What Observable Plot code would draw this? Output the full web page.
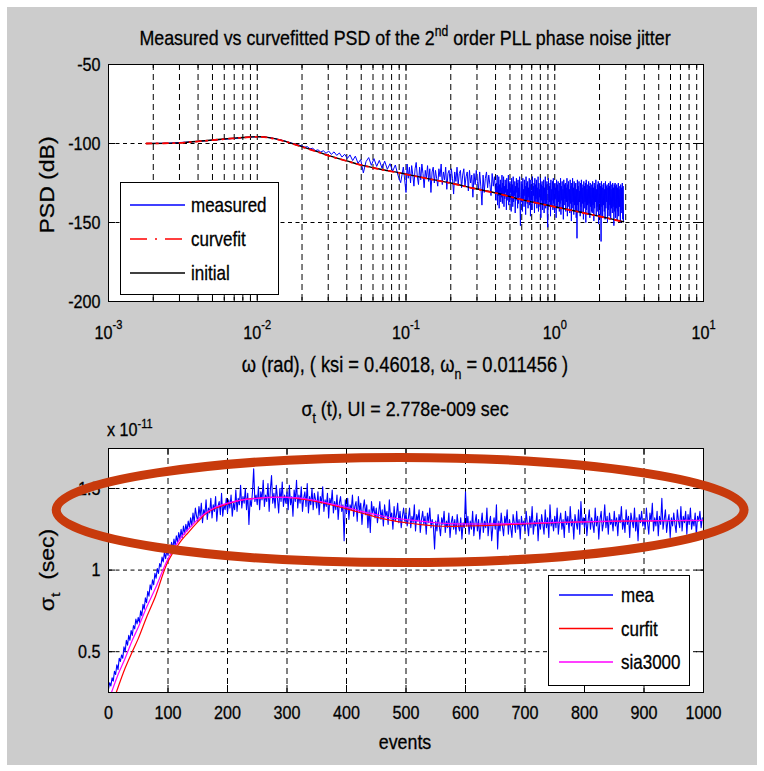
<!DOCTYPE html>
<html><head><meta charset="utf-8">
<script src="https://cdn.jsdelivr.net/npm/d3@7"></script>
<script src="https://cdn.jsdelivr.net/npm/@observablehq/plot@0.6"></script>
<style>
html,body{margin:0;padding:0;background:#fff;}
#page{position:relative;width:764px;height:771px;background:#fff;overflow:hidden}
#bg{position:absolute;left:7px;top:7px;width:750px;height:758px;background:#cccccc}
.chart{position:absolute;left:0;top:0}
.chart svg text{stroke:#000;stroke-width:0.3px}
</style></head>
<body><div id="page"><div id="bg"></div><div id="top" class="chart"></div><div id="bot" class="chart"></div></div>
<script>
const FONT = "'Liberation Sans', Arial, Helvetica, sans-serif";
const SQ = 0.85;
const W = 764, H = 771;

// ---------- top chart: PSD ----------
const xTicksTop = [0.001, 0.01, 0.1, 1, 10];
const yTicksTop = [-200, -150, -100, -50];
const fitX = [0.0018, 0.003, 0.004, 0.005, 0.007, 0.009, 0.0105, 0.012, 0.015, 0.0195, 0.025, 0.031, 0.04, 0.049, 0.065, 0.092, 0.14, 0.199, 0.29, 0.41, 0.6, 1.0, 1.5, 2.1, 2.9];
const initialY = [-100, -99.6, -98.6, -97.8, -96.6, -95.9, -95.7, -96.3, -98.3, -101.7, -105, -108, -111, -113.4, -116, -118.7, -122.2, -125, -128.5, -131.5, -135.5, -140, -143.5, -146.5, -149.5];
const curvefitY = [-100, -99.6, -98.7, -97.9, -96.7, -96.0, -95.8, -96.4, -98.4, -101.8, -105.1, -108.1, -111.1, -113.5, -116.1, -118.8, -122.3, -125.1, -128.6, -131.6, -135.6, -140.1, -143.6, -146.6, -149.6];
const measLowX = [0.0018, 0.0025, 0.0037, 0.0046, 0.0055, 0.0064, 0.0073, 0.0082, 0.0091, 0.0100, 0.011, 0.0128, 0.0146, 0.0164, 0.0183];
const measLowY = [-100, -99.8, -98.9, -98.2, -97.6, -97.1, -96.6, -96.2, -95.9, -95.7, -95.8, -96.7, -97.9, -99.3, -100.6];
const measMidRange = [0.02, 0.1];
const measMidY = [-101.5, -102.3, -102.0, -103.4, -103.0, -104.5, -104.0, -105.4, -104.6, -106.2,
  -104.8, -106.9, -105.3, -107.5, -106.0, -108.6, -106.8, -109.5, -107.2, -110.8,
  -108.0, -112.5, -110.2, -118.6, -111.5, -108.9, -113.8, -109.6, -114.5, -110.7,
  -115.6, -111.2, -116.3, -112.8, -117.5, -113.6, -120.2, -124.8, -114.9, -131.0];
const measHighARange = [0.1, 0.4];
const measHighAY = [
  -117,-113,-122,-115,-125,-114,-120,-127,-116,-112,-121,-126,-115,-123,-113,-119,-128,-117,-122,-114,
  -124,-116,-131,-118,-115,-125,-117,-122,-127,-116,-121,-113,-126,-118,-123,-115,-129,-119,-117,-125,
  -116,-122,-132,-118,-124,-115,-126,-119,-117,-128,-120,-116,-127,-121,-118,-130,-117,-125,-120,-134,
  -119,-126,-117,-124,-129,-118,-127,-139,-120,-131,-122,-118,-128,-120,-126,-133,-119,-127,-121,-131];
const measHighBRange = [0.4, 2.9];
const measHighBY = [
  -122,-136,-125,-131,-120,-139,-127,-133,-121,-141,-126,-130,-123,-137,-128,-134,-120,-138,-125,-132,
  -121,-140,-127,-135,-123,-131,-126,-142,-122,-136,-129,-133,-120,-139,-125,-137,-124,-131,-128,-143,
  -122,-135,-126,-140,-121,-137,-130,-133,-124,-144,-127,-136,-122,-131,-125,-141,-123,-138,-128,-134,
  -121,-139,-152,-132,-124,-137,-126,-143,-122,-135,-129,-140,-123,-133,-127,-145,-121,-136,-125,-138,
  -124,-141,-128,-134,-122,-139,-126,-146,-123,-136,-130,-142,-121,-137,-127,-133,-125,-144,-122,-138,
  -126,-135,-123,-141,-128,-137,-121,-143,-125,-134,-129,-140,-122,-147,-126,-136,-124,-142,-127,-139,
  -123,-144,-128,-136,-121,-141,-126,-138,-124,-145,-153,-135,-122,-140,-127,-137,-125,-146,-123,-139,
  -129,-136,-124,-142,-122,-138,-127,-144,-125,-135,-128,-147,-123,-139,-126,-141,-124,-137,-130,-143,
  -125,-138,-122,-145,-127,-136,-124,-141,-129,-148,-123,-139,-126,-135,-125,-143,-128,-137,-122,-146,
  -126,-140,-124,-136,-129,-144,-123,-138,-127,-149,-125,-141,-122,-137,-128,-145,-124,-139,-126,-142,
  -125,-147,-129,-160,-123,-139,-127,-143,-124,-137,-130,-146,-125,-140,-123,-144,-128,-138,-126,-148,
  -124,-141,-127,-137,-125,-150,-123,-142,-129,-139,-126,-145,-124,-138,-127,-147,-125,-140,-128,-143,
  -126,-144,-124,-139,-128,-149,-125,-141,-127,-137,-123,-146,-129,-140,-126,-143,-124,-151,-128,-138,
  -125,-145,-127,-162,-124,-140,-128,-147,-126,-139,-125,-143,-129,-148,-124,-141,-127,-137,-126,-150,
  -128,-142,-125,-146,-127,-139,-124,-148,-129,-141,-126,-144,-125,-140,-128,-152,-126,-143,-125,-147,
  -127,-141,-126,-149,-128,-143,-125,-146,-129,-140,-127,-150,-126,-144,-128,-142,-125,-148,-127,-149];
const topLegend = ["measured", "curvefit", "initial"];

// ---------- bottom chart: sigma_t (x 1e-11 s) ----------
const xTicksBot = [0, 100, 200, 300, 400, 500, 600, 700, 800, 900, 1000];
const yTicksBot = [0.5, 1, 1.5];
const meaStep = 2; // one reading every 2 events
const meaY = [
  .27,.31,.29,.34,.32,.38,.36,.42,.39,.46,.44,.48,.46,.53,.50,.57,.54,.60,.57,.63,.60,.66,.64,.70,.67,
  .71,.68,.75,.72,.79,.76,.83,.80,.87,.84,.91,.88,.94,.91,.98,.95,1.01,.98,1.04,1.02,1.08,1.05,1.11,1.07,1.12,
  1.09,1.14,1.11,1.17,1.13,1.19,1.15,1.21,1.17,1.23,1.19,1.25,1.20,1.27,1.22,1.28,1.24,1.30,1.26,1.32,1.27,1.35,1.29,1.38,1.33,
  1.30,1.39,1.33,1.41,1.29,1.37,1.34,1.43,1.31,1.38,1.35,1.44,1.32,1.40,1.36,1.45,1.30,1.39,1.42,1.34,1.47,1.33,1.40,1.37,1.44,
  1.35,1.43,1.38,1.46,1.33,1.41,1.37,1.49,1.36,1.44,1.40,1.52,1.38,1.45,1.41,1.50,1.37,1.47,1.28,1.43,1.39,1.48,1.62,1.42,1.46,
  1.40,1.51,1.37,1.48,1.43,1.55,1.39,1.46,1.42,1.53,1.36,1.49,1.58,1.41,1.47,1.38,1.52,1.44,1.35,1.50,1.42,1.54,1.39,1.46,1.41,
  1.48,1.37,1.52,1.40,1.45,1.33,1.49,1.42,1.55,1.38,1.46,1.41,1.51,1.36,1.44,1.48,1.39,1.53,1.35,1.45,1.40,1.50,1.37,1.47,1.43,
  1.38,1.48,1.34,1.45,1.41,1.51,1.36,1.43,1.39,1.47,1.32,1.44,1.40,1.49,1.35,1.42,1.37,1.46,1.31,1.41,1.45,1.36,1.40,1.18,1.43,
  1.35,1.44,1.31,1.40,1.37,1.46,1.33,1.39,1.42,1.30,1.45,1.36,1.41,1.28,1.38,1.43,1.34,1.40,1.26,1.37,1.23,1.42,1.35,1.39,1.32,
  1.38,1.29,1.35,1.42,1.31,1.37,1.27,1.40,1.33,1.36,1.28,1.43,1.32,1.35,1.25,1.39,1.30,1.34,1.41,1.29,1.36,1.26,1.33,1.38,1.30,
  1.35,1.27,1.32,1.38,1.26,1.33,1.29,1.40,1.24,1.34,1.30,1.37,1.23,1.31,1.36,1.28,1.33,1.22,1.35,1.29,1.38,1.26,1.31,1.27,1.13,
  1.30,1.24,1.34,1.27,1.21,1.32,1.28,1.36,1.23,1.30,1.26,1.35,1.20,1.29,1.33,1.25,1.31,1.22,1.34,1.27,1.24,1.32,1.19,1.29,1.26,
  1.48,1.27,1.33,1.22,1.30,1.25,1.36,1.21,1.29,1.34,1.24,1.31,1.19,1.28,1.35,1.23,1.30,1.26,1.38,1.21,1.29,1.33,1.18,1.27,1.32,
  1.25,1.40,1.13,1.30,1.24,1.35,1.27,1.21,1.33,1.28,1.37,1.22,1.31,1.26,1.20,1.34,1.29,1.23,1.36,1.25,1.31,1.19,1.33,1.27,1.30,
  1.24,1.36,1.28,1.21,1.33,1.26,1.39,1.22,1.30,1.27,1.35,1.18,1.31,1.25,1.34,1.28,1.22,1.37,1.26,1.32,1.20,1.40,1.27,1.31,1.24,
  1.33,1.26,1.38,1.22,1.30,1.35,1.25,1.31,1.20,1.36,1.28,1.33,1.23,1.39,1.27,1.31,1.19,1.34,1.29,1.25,1.37,1.22,1.42,1.28,1.32,
  1.26,1.34,1.21,1.30,1.37,1.25,1.32,1.28,1.23,1.38,1.27,1.33,1.19,1.31,1.36,1.24,1.29,1.40,1.26,1.33,1.22,1.35,1.28,1.31,1.24,
  1.36,1.27,1.32,1.21,1.34,1.29,1.39,1.25,1.31,1.23,1.37,1.28,1.33,1.20,1.35,1.30,1.26,1.38,1.24,1.32,1.18,1.34,1.29,1.36,1.27,
  1.31,1.25,1.38,1.29,1.22,1.35,1.30,1.41,1.24,1.32,1.27,1.36,1.21,1.33,1.28,1.44,1.25,1.31,1.37,1.23,1.30,1.34,1.20,1.32,1.27,
  1.35,1.28,1.23,1.37,1.30,1.26,1.39,1.24,1.33,1.29,1.36,1.22,1.34,1.28,1.38,1.25,1.31,1.27,1.35,1.21,1.33,1.30,1.36,1.26,1.32];
const curfitEv = [13, 28, 40, 50, 65, 79, 99, 120, 134, 150, 163, 180, 200, 225, 250, 275, 300, 325, 350, 375, 400, 425, 450, 475, 500, 525, 550, 575, 600, 650, 700, 750, 800, 850, 900, 950, 1000];
const curfitY = [0.25, 0.40, 0.50, 0.58, 0.72, 0.84, 1.045, 1.17, 1.23, 1.295, 1.345, 1.38, 1.405, 1.43, 1.44, 1.445, 1.445, 1.435, 1.42, 1.40, 1.375, 1.35, 1.325, 1.305, 1.29, 1.278, 1.27, 1.268, 1.27, 1.275, 1.283, 1.29, 1.295, 1.299, 1.301, 1.303, 1.304];
const siaEv = [5, 15, 28, 40, 50, 65, 79, 100, 120, 134, 150, 163, 180, 200, 225, 250, 275, 300, 325, 350, 375, 400, 425, 450, 475, 500, 525, 550, 575, 600, 650, 700, 750, 800, 850, 900, 950, 1000];
const siaY = [0.25, 0.35, 0.46, 0.57, 0.65, 0.78, 0.89, 1.07, 1.19, 1.25, 1.31, 1.35, 1.385, 1.41, 1.43, 1.44, 1.445, 1.445, 1.44, 1.425, 1.405, 1.385, 1.36, 1.34, 1.32, 1.31, 1.30, 1.29, 1.285, 1.283, 1.283, 1.287, 1.292, 1.296, 1.30, 1.302, 1.304, 1.305];
const botLegend = ["mea", "curfit", "sia3000"];
// highlight annotation (in data units of the bottom chart)
const ELL = {cx: 491, cy: 1.365, rx: 578, ry: 0.322};

// ---------- build tables ----------
const zip = (xs, ys) => xs.map((x, i) => ({x, y: ys[i]}));
const logGrid = ([lo, hi], n) => d3.range(n).map(i => lo * Math.pow(hi / lo, i / (n - 1)));
const measuredTop = [
  ...zip(measLowX, measLowY),
  ...zip(logGrid(measMidRange, measMidY.length), measMidY),
  ...zip(logGrid(measHighARange, measHighAY.length).slice(1), measHighAY.slice(1)),
  ...zip(logGrid(measHighBRange, measHighBY.length).slice(1), measHighBY.slice(1))
];
const initialTop = zip(fitX, initialY);
const curvefitTop = zip(fitX, curvefitY);
const xMinorTop = xTicksTop.slice(0, -1).flatMap(d => d3.range(2, 10).map(m => m * d));
const meaData = meaY.map((y, i) => ({x: i * meaStep, y}));
const curfitData = zip(curfitEv, curfitY);
const siaData = zip(siaEv, siaY);

const TOP = {l: 108, r: 703, t: 64, b: 301};
const BOT = {l: 108, r: 703, t: 448, b: 692};
const TK = 7, TKm = 4;
const gridV = {stroke: "black", strokeWidth: 1, strokeDasharray: "6,4"};
const gridH = {stroke: "black", strokeWidth: 1, strokeDasharray: "4,3.5"};

function insideTicks(F, xs, ys, len) {
  const fw = F.r - F.l, fh = F.b - F.t;
  const m = [];
  if (xs) {
    m.push(Plot.ruleX(xs, {x: d => d, insetTop: fh - len, stroke: "black"}));
    m.push(Plot.ruleX(xs, {x: d => d, insetBottom: fh - len, stroke: "black"}));
  }
  if (ys) {
    m.push(Plot.ruleY(ys, {y: d => d, insetRight: fw - len, stroke: "black"}));
    m.push(Plot.ruleY(ys, {y: d => d, insetLeft: fw - len, stroke: "black"}));
  }
  return m;
}

const topSvg = Plot.plot({
  width: W, height: H,
  marginLeft: TOP.l, marginRight: W - TOP.r, marginTop: TOP.t, marginBottom: H - TOP.b,
  style: {background: "transparent", fontFamily: FONT, color: "black", overflow: "visible"},
  x: {type: "log", domain: [1e-3, 10]},
  y: {domain: [-200, -50]},
  marks: [
    Plot.frame({fill: "white", stroke: "none"}),
    Plot.ruleX([...xTicksTop, ...xMinorTop], {x: d => d, ...gridV}),
    Plot.ruleY([-150, -100], {y: d => d, ...gridH}),
    Plot.line(measuredTop, {x: "x", y: "y", stroke: "#0000ff", strokeWidth: 1, clip: true}),
    Plot.line(initialTop, {x: "x", y: "y", stroke: "black", strokeWidth: 1.4, curve: "catmull-rom"}),
    Plot.line(curvefitTop, {x: "x", y: "y", stroke: "#ff0000", strokeWidth: 1.8, strokeDasharray: "5,5,1.5,5", curve: "catmull-rom"}),
    ...insideTicks(TOP, xTicksTop, yTicksTop, TK),
    ...insideTicks(TOP, xMinorTop, null, TKm),
    Plot.frame({stroke: "black"}),
    Plot.axisX(xTicksTop, {tickSize: 0, tickPadding: 24, fontSize: 19, label: null,
      tickFormat: d => "10^" + Math.round(Math.log10(d))}),
    Plot.axisY(yTicksTop, {tickSize: 0, tickPadding: 8, fontSize: 19, label: null, tickFormat: d => String(d)})
  ]
});

const botSvg = Plot.plot({
  width: W, height: H,
  marginLeft: BOT.l, marginRight: W - BOT.r, marginTop: BOT.t, marginBottom: H - BOT.b,
  style: {background: "transparent", fontFamily: FONT, color: "black", overflow: "visible"},
  x: {domain: [0, 1000]},
  y: {domain: [0.25, 1.745]},
  marks: [
    Plot.frame({fill: "white", stroke: "none"}),
    Plot.ruleX(xTicksBot, {x: d => d, ...gridV}),
    Plot.ruleY(yTicksBot, {y: d => d, ...gridH}),
    Plot.line(meaData, {x: "x", y: "y", stroke: "#0000ff", strokeWidth: 1.1, clip: true}),
    Plot.line(curfitData, {x: "x", y: "y", stroke: "#ff0000", strokeWidth: 1.2, curve: "catmull-rom", clip: true}),
    Plot.line(siaData, {x: "x", y: "y", stroke: "#ff00ff", strokeWidth: 1.2, curve: "catmull-rom", clip: true}),
    ...insideTicks(BOT, xTicksBot, yTicksBot, TK),
    Plot.frame({stroke: "black"}),
    Plot.axisX(xTicksBot, {tickSize: 0, tickPadding: 13, fontSize: 19, label: null, tickFormat: d => String(d)}),
    Plot.axisY(yTicksBot, {tickSize: 0, tickPadding: 8, fontSize: 19, label: null, tickFormat: d => String(d)}),
    (index, scales) => {
      const e = document.createElementNS("http://www.w3.org/2000/svg", "ellipse");
      const cx = scales.x(ELL.cx), cy = scales.y(ELL.cy);
      e.setAttribute("cx", cx); e.setAttribute("cy", cy);
      e.setAttribute("rx", scales.x(ELL.cx + ELL.rx) - cx);
      e.setAttribute("ry", cy - scales.y(ELL.cy + ELL.ry));
      e.setAttribute("fill", "none"); e.setAttribute("stroke", "#c83a0c"); e.setAttribute("stroke-width", 9);
      e.setAttribute("class", "highlight");
      return e;
    }
  ]
});

document.getElementById("top").append(topSvg);
document.getElementById("bot").append(botSvg);

// superscripts on log tick labels
const NS = "http://www.w3.org/2000/svg";
topSvg.querySelectorAll('g[aria-label="x-axis tick label"] text').forEach(t => {
  const m = /^10\^(-?\d+)$/.exec(t.textContent);
  if (!m) return;
  t.textContent = "";
  const a = document.createElementNS(NS, "tspan"); a.textContent = "10";
  const b = document.createElementNS(NS, "tspan"); b.textContent = m[1];
  b.setAttribute("dy", "-10"); b.setAttribute("font-size", "13");
  t.append(a, b);
});
// narrow the library's text like the original (horizontally squeezed figure)
[topSvg, botSvg].forEach(svg => svg.querySelectorAll("text").forEach(t => {
  const tr = t.getAttribute("transform");
  if (tr) t.setAttribute("transform", tr + ` scale(${SQ},1)`);
}));

// text helper with super/subscripts
function addText(svg, x, y, parts, {size = 20, anchor = "middle", rotate = 0} = {}) {
  const t = d3.select(svg).append("text")
    .attr("transform", `translate(${x},${y}) scale(${SQ},1)` + (rotate ? ` rotate(${rotate})` : ""))
    .attr("text-anchor", anchor).attr("font-size", size).attr("font-family", FONT)
    .attr("fill", "black").style("white-space", "pre");
  let shift = 0;
  for (const p of parts) {
    const [s, kind] = typeof p === "string" ? [p, ""] : p;
    const target = kind === "sup" ? -0.42 * size : kind === "sub" ? 0.32 * size : 0;
    const ts = t.append("tspan").text(s).attr("dy", target - shift);
    if (kind) ts.attr("font-size", size * 0.68);
    shift = target;
  }
  return t;
}
function addLegend(svg, box, entries) {
  const g = d3.select(svg).append("g");
  g.append("rect").attr("x", box.x + 0.5).attr("y", box.y + 0.5).attr("width", box.w).attr("height", box.h)
    .attr("fill", "white").attr("stroke", "black");
  entries.forEach((e, i) => {
    const y = box.y + box.first + i * box.gap;
    g.append("line").attr("x1", box.x + box.l1).attr("x2", box.x + box.l2).attr("y1", y).attr("y2", y)
      .attr("stroke", e.color).attr("stroke-width", e.width || 1.3).attr("stroke-dasharray", e.dash || null);
    addText(svg, box.x + box.tx, y + 7, [e.label], {size: 20, anchor: "start"});
  });
}

// top chart texts
addText(topSvg, 405, 45, ["Measured vs curvefitted PSD of the 2", ["nd", "sup"], " order PLL phase noise jitter"], {size: 21});
addText(topSvg, 405, 372, ["ω (rad), ( ksi = 0.46018, ω", ["n", "sub"], " = 0.011456 )"], {size: 21.5});
addText(topSvg, 54, 185, ["PSD (dB)"], {size: 23, rotate: -90});
addLegend(topSvg, {x: 120, y: 182, w: 158, h: 112, first: 23, gap: 34, l1: 10, l2: 65, tx: 71}, [
  {label: topLegend[0], color: "#0000ff", width: 1.5},
  {label: topLegend[1], color: "#ff0000", width: 1.5, dash: "17,8,2,8"},
  {label: topLegend[2], color: "black", width: 1.5}
]);

// bottom chart texts
addText(botSvg, 405, 416, ["σ", ["t", "sub"], " (t), UI = 2.778e-009 sec"], {size: 21});
addText(botSvg, 107, 436, ["x 10", ["-11", "sup"]], {size: 19, anchor: "start"});
addText(botSvg, 405, 749, ["events"], {size: 21});
addText(botSvg, 54, 570, ["σ", ["t", "sub"], "  (sec)"], {size: 23, rotate: -90});
addLegend(botSvg, {x: 548, y: 575, w: 141, h: 110, first: 20, gap: 33.5, l1: 11, l2: 65, tx: 73}, [
  {label: botLegend[0], color: "#0000ff", width: 1.5},
  {label: botLegend[1], color: "#ff0000", width: 1.5},
  {label: botLegend[2], color: "#ff00ff", width: 1.5}
]);
// keep the highlight ellipse on top of everything
const hl = botSvg.querySelector(".highlight");
if (hl) botSvg.appendChild(hl.parentNode && hl.parentNode !== botSvg ? hl.parentNode : hl);
</script>
</body></html>
